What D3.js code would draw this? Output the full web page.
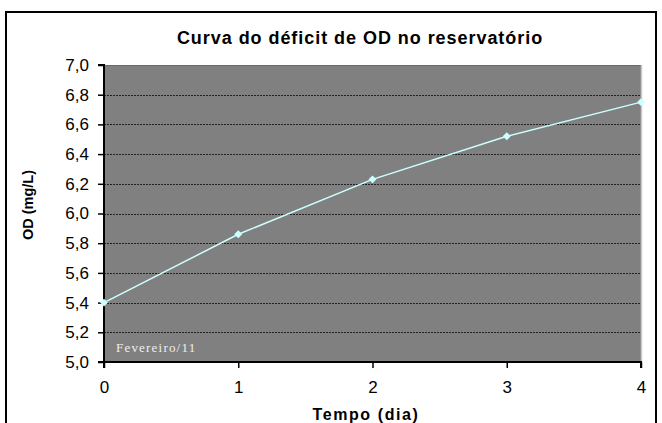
<!DOCTYPE html>
<html><head><meta charset="utf-8">
<script src="https://cdn.jsdelivr.net/npm/d3@7"></script>
<style>body{margin:0;background:#fff;}</style>
</head><body>
<svg id="c" width="662" height="423"></svg>
<script>
const days = [0, 1, 2, 3, 4];
const odValues = [5.40, 5.86, 6.23, 6.52, 6.75];
const yTicks = [5.0, 5.2, 5.4, 5.6, 5.8, 6.0, 6.2, 6.4, 6.6, 6.8, 7.0];
const xTicks = [0, 1, 2, 3, 4];
const titleText = "Curva do déficit de OD no reservatório";
const xTitle = "Tempo (dia)";
const yTitle = "OD (mg/L)";
const noteText = "Fevereiro/11";

const SANS = "'Liberation Sans', Arial, sans-serif";
const svg = d3.select("#c");
const L = 104, R = 641, T = 65, B = 362;
const x = d3.scaleLinear().domain([0, 4]).range([L, R]);
const y = d3.scaleLinear().domain([5.0, 7.0]).range([B, T]);

// outer frame
svg.append("rect").attr("x", 6).attr("y", 12).attr("width", 650).attr("height", 420)
  .attr("fill", "#fff").attr("stroke", "#000").attr("stroke-width", 2);

// plot background
svg.append("rect").attr("x", L).attr("y", T).attr("width", R - L).attr("height", B - T)
  .attr("fill", "#808080");
svg.append("line").attr("x1", L).attr("x2", R).attr("y1", T + 0.5).attr("y2", T + 0.5)
  .attr("stroke", "#6a6a6a").attr("stroke-width", 1);
svg.append("line").attr("x1", R + 0.5).attr("x2", R + 0.5).attr("y1", T).attr("y2", B)
  .attr("stroke", "#c8c8c8").attr("stroke-width", 1.5);

// gridlines
svg.append("g").selectAll("line").data(yTicks.filter(d => d > 5.0 && d < 7.0)).join("line")
  .attr("x1", L).attr("x2", R)
  .attr("y1", d => Math.round(y(d)) + 0.5).attr("y2", d => Math.round(y(d)) + 0.5)
  .attr("stroke", "#222").attr("stroke-width", 1).attr("stroke-dasharray", "2,1");

// axes
const yAxis = d3.axisLeft(y).tickValues(yTicks).tickSize(6).tickPadding(9)
  .tickFormat(d => d3.format(".1f")(d).replace(".", ","));
const gy = svg.append("g").attr("transform", `translate(${L},0)`).call(yAxis);
const xAxis = d3.axisBottom(x).tickValues(xTicks).tickSize(6).tickPadding(13)
  .tickFormat(d3.format("d"));
const gx = svg.append("g").attr("transform", `translate(0,${B})`).call(xAxis);
[gy, gx].forEach(g => {
  g.attr("font-family", SANS).attr("font-size", 17);
  g.select(".domain").attr("stroke", "#000").attr("stroke-width", 2);
  g.selectAll(".tick line").attr("stroke", "#000").attr("stroke-width", 1.5);
  g.selectAll("text").attr("fill", "#000");
});
gy.select(".domain").attr("d", `M-6,${T}H0V${B}H-6`);
gx.select(".domain").attr("d", `M${L},6V0H${R}V6`);

// line & markers
const pts = days.map((d, i) => [d, odValues[i]]);
svg.append("path").datum(pts)
  .attr("d", d3.line().x(d => x(d[0])).y(d => y(d[1])))
  .attr("fill", "none").attr("stroke", "#ccffff").attr("stroke-width", 1.5);
svg.append("g").selectAll("path").data(pts).join("path")
  .attr("transform", d => `translate(${x(d[0])},${y(d[1])})`)
  .attr("d", d3.symbol(d3.symbolDiamond2, 40)())
  .attr("fill", "#ccffff");

// note
svg.append("text").attr("x", 116).attr("y", 352).text(noteText)
  .attr("font-family", "'Liberation Serif', 'Times New Roman', serif")
  .attr("font-size", 13).attr("letter-spacing", 1.2).attr("fill", "#eeeeee");

// titles
svg.append("text").attr("x", 360).attr("y", 44).attr("text-anchor", "middle")
  .attr("font-family", SANS).attr("font-size", 18).attr("font-weight", "bold")
  .attr("letter-spacing", 0.95).text(titleText);
svg.append("text").attr("x", 366).attr("y", 420).attr("text-anchor", "middle")
  .attr("font-family", SANS).attr("font-size", 16).attr("font-weight", "bold")
  .attr("letter-spacing", 1.6).text(xTitle);
svg.append("text").attr("transform", "translate(33,205) rotate(-90)").attr("text-anchor", "middle")
  .attr("font-family", SANS).attr("font-size", 14.5).attr("font-weight", "bold").text(yTitle);
</script>
</body></html>
